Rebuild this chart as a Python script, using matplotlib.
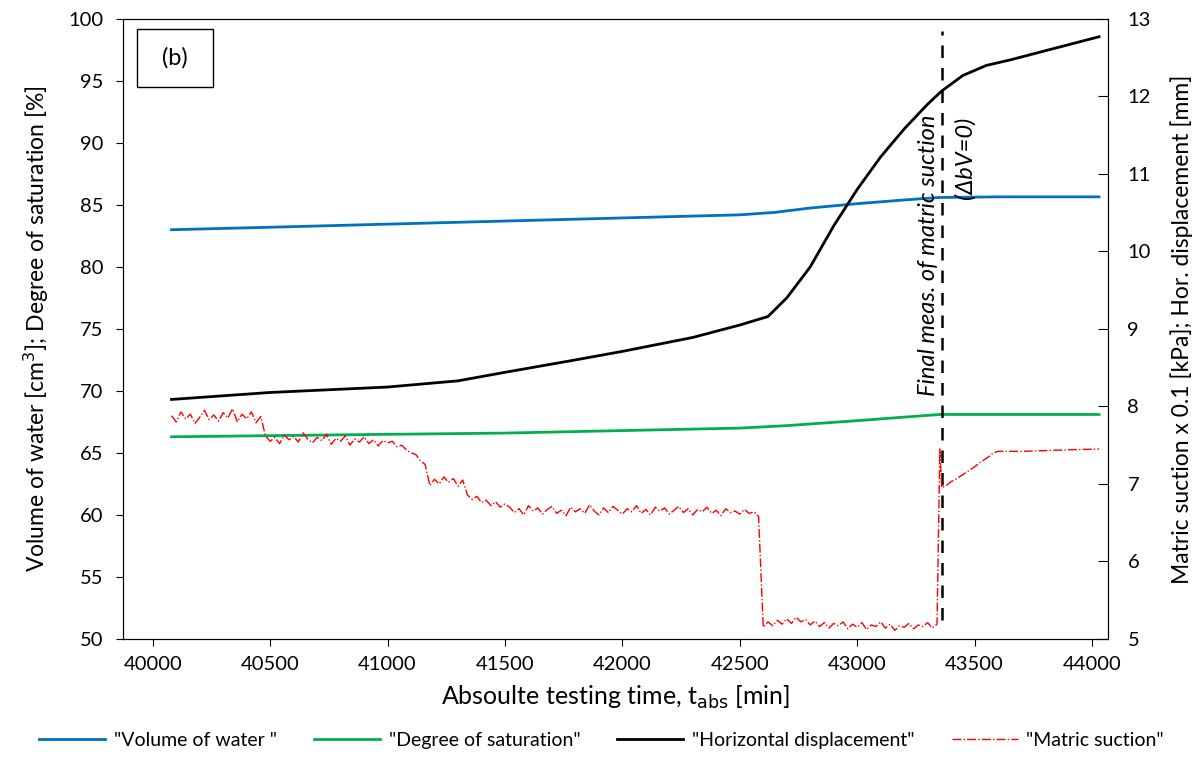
import numpy as np
import matplotlib
matplotlib.use("Agg")
import matplotlib.pyplot as plt
from matplotlib.patches import Rectangle

plt.rcParams['font.family'] = ['Lato', 'DejaVu Sans']

# volume of water / degree of saturation (left axis)
t_water = [40080, 40500, 41000, 41500, 42000, 42500, 42650, 42800, 43000, 43200, 43350, 43600, 44030]
water = [83.0, 83.2, 83.45, 83.7, 83.95, 84.2, 84.4, 84.75, 85.1, 85.4, 85.6, 85.65, 85.65]

t_sat = [40080, 41000, 41500, 42000, 42500, 42700, 43000, 43350, 44030]
saturation = [66.3, 66.5, 66.6, 66.8, 67.0, 67.2, 67.6, 68.1, 68.1]

# horizontal displacement [mm] (right axis)
t_disp = [40080, 40500, 41000, 41300, 41500, 41800, 42000, 42300, 42500, 42620, 42700, 42800,
          42900, 43000, 43100, 43200, 43300, 43360, 43450, 43550, 43650, 44030]
disp = [8.09, 8.18, 8.25, 8.33, 8.44, 8.6, 8.71, 8.89, 9.05, 9.16, 9.4, 9.8,
        10.33, 10.8, 11.22, 11.58, 11.9, 12.07, 12.27, 12.4, 12.47, 12.77]

# matric suction x 0.1 [kPa] (right axis), read segment by segment
suc_a = [7.88, 7.80, 7.93, 7.84, 7.90, 7.78, 7.86, 7.95, 7.83, 7.89,
         7.81, 7.92, 7.85, 7.97, 7.80, 7.90, 7.84, 7.93, 7.79, 7.87]
suc_b = [7.62, 7.55, 7.60, 7.52, 7.63, 7.57, 7.61, 7.54, 7.66, 7.58, 7.53, 7.60, 7.56, 7.64,
         7.51, 7.59, 7.55, 7.62, 7.50, 7.58, 7.54, 7.61, 7.52, 7.57, 7.49, 7.56, 7.53]
suc_c = [7.55, 7.48, 7.50, 7.44, 7.40, 7.38, 7.30, 7.25]
suc_d = [6.98, 7.06, 7.00, 7.09, 7.02, 7.07, 6.97, 7.05]
suc_e = [6.86, 6.80, 6.84, 6.76, 6.79, 6.72, 6.77, 6.70, 6.74]
suc_f = [6.70, 6.63, 6.68, 6.60, 6.72, 6.65, 6.69, 6.61, 6.67, 6.71, 6.62, 6.66, 6.59, 6.70,
         6.64, 6.68, 6.62, 6.73, 6.65, 6.60, 6.69, 6.63, 6.71, 6.66, 6.61, 6.68, 6.64, 6.72,
         6.62, 6.67, 6.60, 6.70, 6.65, 6.69, 6.61, 6.66, 6.71, 6.63, 6.68, 6.60, 6.67, 6.64,
         6.70, 6.62, 6.66, 6.59, 6.68, 6.63, 6.65, 6.61, 6.67, 6.62, 6.64, 6.58]
suc_g = [5.15, 5.22, 5.17, 5.24, 5.19, 5.26, 5.20, 5.28, 5.22, 5.25, 5.18, 5.23, 5.16, 5.21,
         5.14, 5.20, 5.17, 5.22, 5.13, 5.19, 5.15, 5.21, 5.12, 5.18, 5.16, 5.22, 5.14, 5.19,
         5.11, 5.17, 5.15, 5.20, 5.13, 5.18, 5.16, 5.21, 5.14, 5.19]
suc_h = [7.45, 6.95, 6.98, 7.03, 7.06, 7.10, 7.14, 7.18, 7.22, 7.27, 7.31, 7.35, 7.40, 7.42]
t_suc_i = [43700, 43800, 43900, 44030]
suc_i = [7.42, 7.43, 7.44, 7.45]

t_suc = np.concatenate([
    np.arange(40080, 40461, 20),
    np.arange(40480, 41001, 20),
    np.arange(41020, 41161, 20),
    np.arange(41180, 41321, 20),
    np.arange(41340, 41501, 20),
    np.arange(41520, 42581, 20),
    np.arange(42600, 43341, 20),
    [43352], np.arange(43360, 43601, 20),
    t_suc_i,
])
suction = np.concatenate([suc_a, suc_b, suc_c, suc_d, suc_e, suc_f, suc_g, suc_h, suc_i])

t_final = 43360

fig = plt.figure(figsize=(12.03, 7.57), dpi=100)
ax = fig.add_axes([0.102, 0.156, 0.819, 0.819])
ax2 = ax.twinx()

l1, = ax.plot(t_water, water, color='#0070C0', lw=2, label='"Volume of water "')
l2, = ax.plot(t_sat, saturation, color='#00B050', lw=2, label='"Degree of saturation"')
l3, = ax2.plot(t_disp, disp, color='black', lw=2, label='"Horizontal displacement"')
l4, = ax2.plot(t_suc, suction, color='#FF0000', lw=1.0, ls='-.', label='"Matric suction"')

ax.plot([t_final, t_final], [51.5, 99], color='black', lw=1.8, ls=(0, (5, 4)))

ax.set_xlim(39872, 44068)
ax.set_ylim(50, 100)
ax2.set_ylim(5, 13)
ax.set_xticks(np.arange(40000, 44001, 500))
ax.set_yticks(np.arange(50, 101, 5))
ax2.set_yticks(np.arange(5, 14, 1))

ax.tick_params(axis='both', labelsize=14.5, direction='out', length=5)
ax.tick_params(axis='y', pad=9)
ax.tick_params(axis='x', pad=7)
ax2.tick_params(axis='y', labelsize=14.5, direction='in', length=7, pad=14)

ax.set_xlabel('Absoulte testing time, t$_{\\mathrm{abs}}$ [min]', fontsize=18, labelpad=8)
ax.set_ylabel('Volume of water [cm$^{3}$]; Degree of saturation [%]', fontsize=16.5, labelpad=12)
ax2.set_ylabel('Matric suction x 0.1 [kPa]; Hor. displacement [mm]', fontsize=16.5, labelpad=14)

ax.text(t_final - 55, 80.9, 'Final meas. of matric suction', rotation=90, style='italic',
        fontsize=17, ha='center', va='center')
ax.text(t_final + 100, 88.8, '(ΔbV=0)', rotation=90, style='italic',
        fontsize=17, ha='center', va='center')

ax.add_patch(Rectangle((0.0142, 0.890), 0.0772, 0.094, transform=ax.transAxes,
                       fc='white', ec='black', lw=1, zorder=5))
ax.text(0.0528, 0.937, '(b)', transform=ax.transAxes, fontsize=17, ha='center', va='center',
        zorder=6)

fig.legend(handles=[l1, l2, l3, l4], loc='lower center', bbox_to_anchor=(0.5, -0.012), ncol=4,
           frameon=False, fontsize=14, columnspacing=1.9, handlelength=3.4, handletextpad=0.45)

fig.savefig('out.png', dpi=100)
